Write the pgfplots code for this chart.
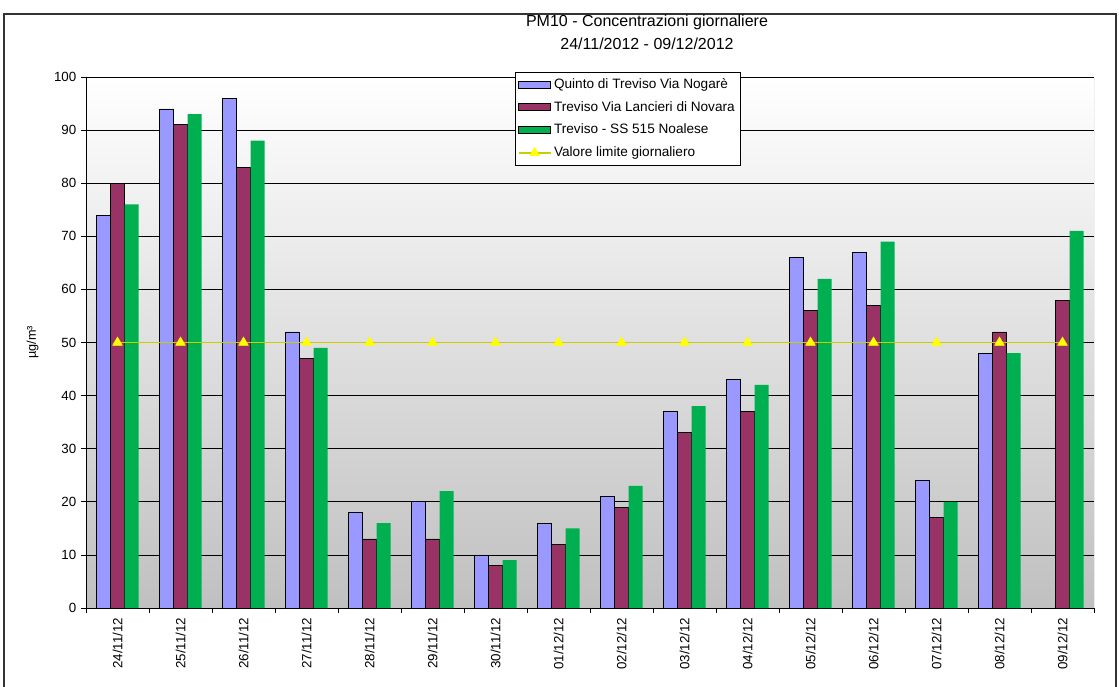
\documentclass[border=0pt]{standalone}
\usepackage{fontspec}
\setmainfont{Liberation Sans}
\usepackage{pgfplots}
\pgfplotsset{compat=1.18}

\definecolor{quinto}{RGB}{153,153,255}
\definecolor{lancieri}{RGB}{153,51,102}
\definecolor{noalese}{RGB}{0,176,80}
\definecolor{limline}{RGB}{204,204,0}
\definecolor{limmark}{RGB}{255,255,0}
\definecolor{plotgray}{RGB}{192,192,192}

\pgfplotsset{
  barlegend/.style={legend image code/.code={\draw[##1] (0pt,-2.6pt) rectangle (24pt,2.6pt);}},
  linelegend/.style={legend image code/.code={\draw[mark repeat=2,mark phase=2,##1] plot coordinates {(0pt,0pt) (12pt,0pt) (24pt,0pt)};}},
}

\begin{document}
\begin{tikzpicture}
\useasboundingbox (0,0) rectangle (839.25pt,514.5pt);
% outer frame of the chart
\draw[black!80, line width=0.8pt] (3pt,-5pt) -- (3pt,504pt) -- (837pt,504pt) -- (837pt,-5pt);
% title
\node[align=center, font=\fontsize{12}{17.25}\selectfont] at (485.25pt,490.5pt)
  {PM10 - Concentrazioni giornaliere\\24/11/2012 - 09/12/2012};

\begin{axis}[
  at={(64.5pt,58.5pt)}, anchor=south west,
  width=756pt, height=398.25pt, scale only axis,
  xmin=-0.5, xmax=15.5, ymin=0, ymax=100,
  axis x line*=bottom, axis y line*=left,
  axis line style={black, line width=0.6pt},
  axis background/.style={shade, top color=white, bottom color=plotgray},
  ytick={0,10,...,100},
  ymajorgrids, grid style={black, line width=0.5pt},
  xtick={0,...,15},
  xticklabels={24/11/12,25/11/12,26/11/12,27/11/12,28/11/12,29/11/12,30/11/12,01/12/12,02/12/12,03/12/12,04/12/12,05/12/12,06/12/12,07/12/12,08/12/12,09/12/12},
  major x tick style={draw=none},
  minor xtick={-0.5,0.5,...,15.5},
  tick align=outside, major tick length=3.75pt, minor tick length=3.75pt,
  tick style={black, line width=0.5pt},
  /pgf/number format/assume math mode=true,
  tick label style={font=\fontsize{10}{12}\selectfont},
  x tick label style={rotate=90, anchor=east},
  ylabel={µg/m³},
  ylabel style={at={(axis description cs:-0.053,0.5)}, anchor=center, font=\fontsize{9.5}{11}\selectfont},
  legend style={at={(axis description cs:0.4256,1.0094)}, anchor=north west,
    draw=black, fill=white, font=\fontsize{10.2}{11}\selectfont,
    row sep=4.2pt, inner xsep=2pt, inner ysep=2.6pt},
  legend cell align=left,
]
\addplot[ybar, bar width=10.5pt, bar shift=-10.5pt, fill=quinto, draw=black, line width=0.5pt, barlegend]
  coordinates {(0,74) (1,94) (2,96) (3,52) (4,18) (5,20) (6,10) (7,16) (8,21) (9,37) (10,43) (11,66) (12,67) (13,24) (14,48)};
\addlegendentry{Quinto di Treviso Via Nogarè}
\addplot[ybar, bar width=10.5pt, bar shift=0pt, fill=lancieri, draw=black, line width=0.5pt, barlegend]
  coordinates {(0,80) (1,91) (2,83) (3,47) (4,13) (5,13) (6,8) (7,12) (8,19) (9,33) (10,37) (11,56) (12,57) (13,17) (14,52) (15,58)};
\addlegendentry{Treviso Via Lancieri di Novara}
\addplot[ybar, bar width=10.5pt, bar shift=10.5pt, fill=noalese, draw=none, barlegend]
  coordinates {(0,76) (1,93) (2,88) (3,49) (4,16) (5,22) (6,9) (7,15) (8,23) (9,38) (10,42) (11,62) (12,69) (13,20) (14,48) (15,71)};
\addlegendentry{Treviso - SS 515 Noalese}
\addplot[sharp plot, color=limline, line width=1.1pt, mark=triangle*, mark size=4.2pt,
  mark options={fill=limmark, draw=limmark, line width=0.3pt}, linelegend]
  coordinates {(0,50) (1,50) (2,50) (3,50) (4,50) (5,50) (6,50) (7,50) (8,50) (9,50) (10,50) (11,50) (12,50) (13,50) (14,50) (15,50)};
\addlegendentry{Valore limite giornaliero}
\draw[black!45, line width=0.6pt] (rel axis cs:1,0) -- (rel axis cs:1,1);
\end{axis}
\end{tikzpicture}
\end{document}
